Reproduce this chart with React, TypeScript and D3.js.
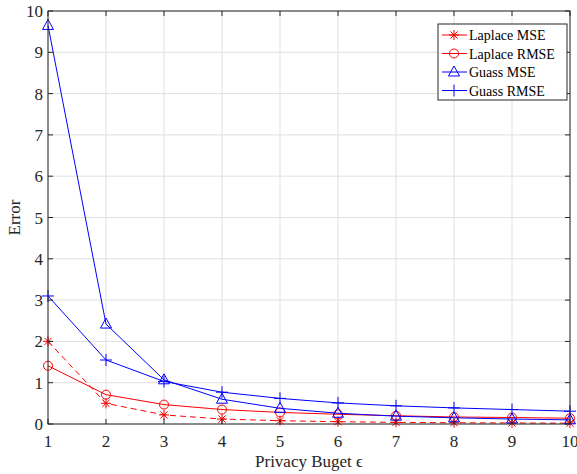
import React from "react";
import * as d3 from "d3";

const epsilons = [1, 2, 3, 4, 5, 6, 7, 8, 9, 10];
const laplaceMSE = [2.0, 0.5, 0.22, 0.12, 0.08, 0.055, 0.04, 0.03, 0.025, 0.02];
const laplaceRMSE = [1.41, 0.71, 0.47, 0.35, 0.28, 0.235, 0.2, 0.17, 0.157, 0.14];
const guassMSE = [9.65, 2.42, 1.07, 0.6, 0.38, 0.26, 0.19, 0.15, 0.12, 0.1];
const guassRMSE = [3.1, 1.55, 1.03, 0.77, 0.62, 0.51, 0.44, 0.39, 0.35, 0.31];
const yTicks = [0, 1, 2, 3, 4, 5, 6, 7, 8, 9, 10];
const seriesNames = ["Laplace MSE", "Laplace RMSE", "Guass MSE", "Guass RMSE"];

const W = 577, H = 474;
const L = 48, R = 570, T = 11, B = 424;
const FONT = "'Liberation Serif', 'DejaVu Serif', serif";

type Marker = "star" | "circle" | "tri" | "plus";

function MarkerShape({ type, x, y, color }: { type: Marker; x: number; y: number; color: string }) {
  const s = 5;
  if (type === "circle") return <circle cx={x} cy={y} r={4.5} fill="none" stroke={color} strokeWidth={1} />;
  if (type === "tri")
    return <path d={`M${x},${y - 6}L${x + 5.5},${y + 4}L${x - 5.5},${y + 4}Z`} fill="none" stroke={color} strokeWidth={1} />;
  if (type === "plus")
    return <path d={`M${x - s - 1},${y}H${x + s + 1}M${x},${y - s - 1}V${y + s + 1}`} stroke={color} strokeWidth={1} />;
  const d = s * 0.72;
  return (
    <path
      d={`M${x - s},${y}H${x + s}M${x},${y - s}V${y + s}M${x - d},${y - d}L${x + d},${y + d}M${x - d},${y + d}L${x + d},${y - d}`}
      stroke={color}
      strokeWidth={1}
    />
  );
}

export default function App() {
  const x = d3.scaleLinear().domain([1, 10]).range([L, R]);
  const y = d3.scaleLinear().domain([0, 10]).range([B, T]);
  const line = d3
    .line<number>()
    .x((_, i) => x(epsilons[i]))
    .y((v) => y(v));

  const series: { name: string; data: number[]; color: string; dash?: string; marker: Marker }[] = [
    { name: seriesNames[0], data: laplaceMSE, color: "#ff0000", dash: "6,4", marker: "star" },
    { name: seriesNames[1], data: laplaceRMSE, color: "#ff0000", marker: "circle" },
    { name: seriesNames[2], data: guassMSE, color: "#0000ff", marker: "tri" },
    { name: seriesNames[3], data: guassRMSE, color: "#0000ff", marker: "plus" },
  ];

  const legX = 438, legY = 24, legW = 129, legH = 76;

  return (
    <svg width={W} height={H} style={{ position: "absolute", left: 0, top: 0, background: "#fff" }} fontFamily={FONT}>
      <rect x={0} y={0} width={W} height={H} fill="#fff" />
      {/* grid */}
      {epsilons.map((e) => (
        <line key={"gx" + e} x1={x(e)} x2={x(e)} y1={T} y2={B} stroke="#dfdfdf" strokeWidth={1} />
      ))}
      {yTicks.map((t) => (
        <line key={"gy" + t} x1={L} x2={R} y1={y(t)} y2={y(t)} stroke="#dfdfdf" strokeWidth={1} />
      ))}
      {/* series */}
      {series.map((s) => (
        <g key={s.name}>
          <path d={line(s.data) || ""} fill="none" stroke={s.color} strokeWidth={1} strokeDasharray={s.dash} />
          {s.data.map((v, i) => (
            <MarkerShape key={i} type={s.marker} x={x(epsilons[i])} y={y(v)} color={s.color} />
          ))}
        </g>
      ))}
      {/* axes box */}
      <rect x={L} y={T} width={R - L} height={B - T} fill="none" stroke="#262626" strokeWidth={1} />
      {epsilons.map((e) => (
        <g key={"tx" + e}>
          <line x1={x(e)} x2={x(e)} y1={B} y2={B - 5} stroke="#262626" />
          <line x1={x(e)} x2={x(e)} y1={T} y2={T + 5} stroke="#262626" />
          <text x={x(e)} y={B + 23} textAnchor="middle" fontSize={17} fill="#262626">
            {e}
          </text>
        </g>
      ))}
      {yTicks.map((t) => (
        <g key={"ty" + t}>
          <line x1={L} x2={L + 5} y1={y(t)} y2={y(t)} stroke="#262626" />
          <line x1={R} x2={R - 5} y1={y(t)} y2={y(t)} stroke="#262626" />
          <text x={L - 5} y={y(t) + 6} textAnchor="end" fontSize={17} fill="#262626">
            {t}
          </text>
        </g>
      ))}
      <text x={(L + R) / 2} y={467} textAnchor="middle" fontSize={17} fill="#262626">
        Privacy Buget ϵ
      </text>
      <text transform={`translate(20,${(T + B) / 2}) rotate(-90)`} textAnchor="middle" fontSize={17} fill="#262626">
        Error
      </text>
      {/* legend */}
      <rect x={legX} y={legY} width={legW} height={legH} fill="#fff" stroke="#262626" strokeWidth={1} />
      {series.map((s, i) => {
        const ly = legY + 11 + i * 18.5;
        return (
          <g key={"leg" + s.name}>
            <line x1={legX + 4} x2={legX + 29} y1={ly} y2={ly} stroke={s.color} />
            <MarkerShape type={s.marker} x={legX + 16} y={ly} color={s.color} />
            <text x={legX + 31} y={ly + 5} fontSize={14} fill="#000">
              {s.name}
            </text>
          </g>
        );
      })}
    </svg>
  );
}
